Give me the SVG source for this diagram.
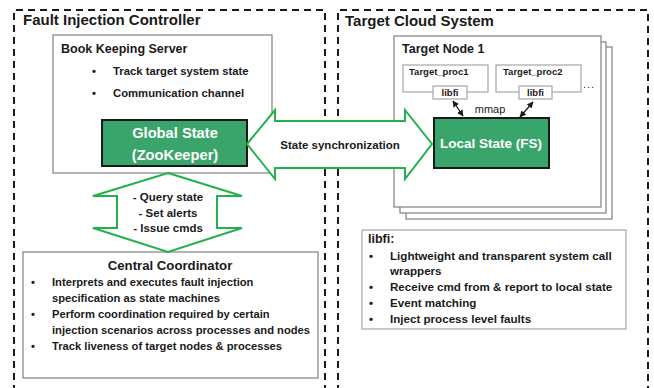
<svg xmlns="http://www.w3.org/2000/svg" width="654" height="388" viewBox="0 0 654 388">
  <style>
    text { font-family: "Liberation Sans", Arial, sans-serif; font-weight: bold; fill: #1a1a1a; }
    text.plain { font-weight: normal; }
    .region { fill: none; stroke: #1a1a1a; stroke-width: 2; stroke-dasharray: 7 5; }
    .box { fill: #ffffff; stroke: #7f7f7f; stroke-width: 1.2; }
    .lightbox { fill: #ffffff; stroke: #a6a6a6; stroke-width: 1.2; }
    .state { fill: #3aa56a; stroke: #1a1a1a; stroke-width: 2; }
    .state-text { fill: #ffffff; font-size: 14.7px; text-anchor: middle; }
    .big-arrow { fill: #ffffff; stroke: #22b14c; stroke-width: 2; stroke-linejoin: miter; }
    .title { font-size: 15px; }
    .bullet { font-size: 11.3px; }
    .link { stroke: #1a1a1a; stroke-width: 1.3; fill: none; marker-start: url(#head); marker-end: url(#head); }
  </style>
  <defs>
    <marker id="head" viewBox="0 0 10 10" refX="9" refY="5" markerWidth="5" markerHeight="5" orient="auto-start-reverse">
      <path d="M0,0 L10,5 L0,10 z" fill="#1a1a1a"/>
    </marker>
  </defs>

  <rect width="654" height="388" fill="#ffffff"/>

  <!-- Dashed regions -->
  <g id="fault-injection-controller">
    <path class="region" d="M14,392 V10 H325 V392"/>
    <text class="title" x="23" y="25">Fault Injection Controller</text>
  </g>
  <g id="target-cloud-system">
    <path class="region" d="M338,392 V10 H648 V392"/>
    <text class="title" x="345" y="26">Target Cloud System</text>
  </g>

  <!-- Book keeping server -->
  <g id="book-keeping-server">
    <rect class="box" x="53" y="35" width="219" height="138"/>
    <text x="61" y="53" font-size="12.5">Book Keeping Server</text>
    <text class="bullet" x="92" y="75">•</text>
    <text class="bullet" x="113" y="75">Track target system state</text>
    <text class="bullet" x="92" y="97">•</text>
    <text class="bullet" x="113" y="97">Communication channel</text>
  </g>

  <g id="global-state">
    <rect class="state" x="102" y="120" width="145" height="46"/>
    <text class="state-text" x="175" y="138">Global State</text>
    <text class="state-text" x="175" y="160">(ZooKeeper)</text>
  </g>

  <!-- Target node stack -->
  <g id="target-node-1">
    <rect class="box" x="406" y="47" width="206" height="172"/>
    <rect class="box" x="400" y="42" width="206" height="171"/>
    <rect class="box" x="394" y="36" width="207" height="171"/>
    <text x="402" y="53" font-size="12.5">Target Node 1</text>
    <text class="plain" x="583" y="88" font-size="11" letter-spacing="1">...</text>
  </g>

  <g id="target-proc1">
    <rect class="lightbox" x="403" y="65" width="85" height="27"/>
    <text x="409" y="75" font-size="9.5">Target_proc1</text>
    <rect class="lightbox" x="433" y="86" width="34" height="13"/>
    <text x="450" y="96" font-size="9.5" text-anchor="middle">libfi</text>
  </g>

  <g id="target-proc2">
    <rect class="lightbox" x="496" y="65" width="85" height="27"/>
    <text x="503" y="75" font-size="9.5">Target_proc2</text>
    <rect class="lightbox" x="519" y="86" width="33" height="13"/>
    <text x="535.5" y="96" font-size="9.5" text-anchor="middle">libfi</text>
  </g>

  <g id="local-state">
    <rect class="state" x="434" y="118" width="115" height="50"/>
    <text class="state-text" x="491" y="148" style="font-size:13.5px">Local State (FS)</text>
  </g>

  <!-- Central coordinator -->
  <g id="central-coordinator">
    <rect class="box" x="23" y="252" width="295" height="126"/>
    <text x="170" y="270" font-size="13.2" text-anchor="middle">Central Coordinator</text>
    <g font-size="11.2">
      <text x="31" y="286">•</text>
      <text x="52" y="286">Interprets and executes fault injection</text>
      <text x="52" y="302">specification as state machines</text>
      <text x="31" y="318">•</text>
      <text x="52" y="318">Perform coordination required by certain</text>
      <text x="52" y="334">injection scenarios across processes and nodes</text>
      <text x="31" y="350">•</text>
      <text x="52" y="350">Track liveness of target nodes &amp; processes</text>
    </g>
  </g>

  <!-- libfi description -->
  <g id="libfi-notes">
    <rect class="lightbox" x="362" y="230" width="264" height="99"/>
    <text x="368" y="243" font-size="12.5">libfi:</text>
    <g font-size="11.6">
      <text x="369" y="260">•</text>
      <text x="390" y="260">Lightweight and transparent system call</text>
      <text x="390" y="275">wrappers</text>
      <text x="369" y="291">•</text>
      <text x="390" y="291">Receive cmd from &amp; report to local state</text>
      <text x="369" y="307">•</text>
      <text x="390" y="307">Event matching</text>
      <text x="369" y="323">•</text>
      <text x="390" y="323">Inject process level faults</text>
    </g>
  </g>

  <!-- Connectors -->
  <g id="connectors">
    <g id="state-sync">
      <path class="big-arrow" d="M247,144 L275,110 L275,121 L405,121 L405,110 L432,144 L405,179 L405,168 L275,168 L275,179 Z"/>
      <text x="340" y="149" font-size="11.5" text-anchor="middle">State synchronization</text>
    </g>
    <g id="coordinator-link">
      <path class="big-arrow" d="M168,173 L242,196 L217,196 L217,228 L242,228 L168,252 L93,228 L117,228 L117,196 L93,196 Z"/>
      <g font-size="11.5" text-anchor="middle">
        <text x="168" y="201">- Query state</text>
        <text x="168" y="217">- Set alerts</text>
        <text x="168" y="232">- Issue cmds</text>
      </g>
    </g>
    <g id="mmap-links">
      <line class="link" x1="453" y1="101" x2="463" y2="116"/>
      <line class="link" x1="533" y1="102" x2="520" y2="117"/>
      <text class="plain" x="490" y="113" font-size="11" text-anchor="middle">mmap</text>
    </g>
  </g>
</svg>
